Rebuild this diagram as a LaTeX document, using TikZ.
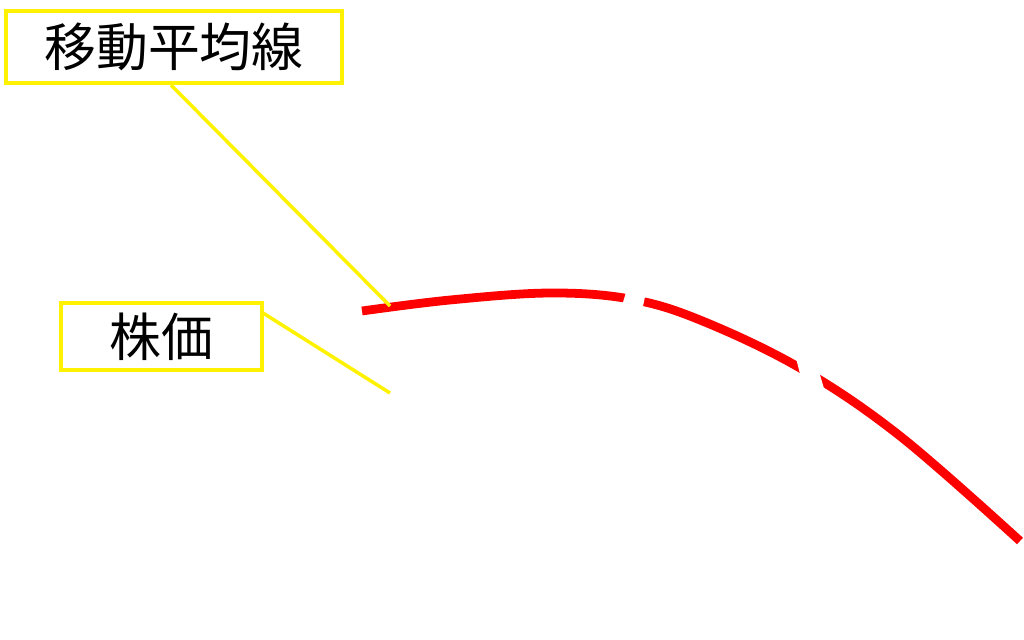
\documentclass[tikz,border=0pt]{standalone}
\usepackage{fontspec}
\setmainfont{Noto Sans CJK JP}
\begin{document}
\begin{tikzpicture}[x=0.02cm,y=-0.02cm,
    labelbox/.style={shape=rectangle,draw=yellow,line width=2.3pt,inner sep=0pt,font=\fontsize{29.5}{33}\selectfont},
    leader/.style={draw=yellow,line width=2pt}]
  \useasboundingbox (0,0) rectangle (1024,639);
  \node[labelbox,minimum width=6.72cm,minimum height=1.44cm] (ma) at (174,47) {移動平均線};
  \node[labelbox,minimum width=4.02cm,minimum height=1.34cm] (price) at (161.5,336.5) {株価};
  \coordinate (maend) at (390,306);
  \coordinate (priceend) at (390,393);
  \coordinate (pricestart) at (263,313);

  \draw[red,line width=5pt] plot[smooth,tension=0.6] coordinates
    {(362,311) (450,300) (550,293) (630,299) (700,320) (800,368) (900,436) (1020,541)};
  \fill[white] (627,289) -- (646,292) -- (642,311) -- (621,309) -- cycle;
  \fill[white] (795,354) -- (818,368) -- (825,392) -- (801,378) -- cycle;

  \path[leader] (ma.south -| 171,0) -- (maend);
  \path[leader] (pricestart) -- (priceend);
\end{tikzpicture}
\end{document}
